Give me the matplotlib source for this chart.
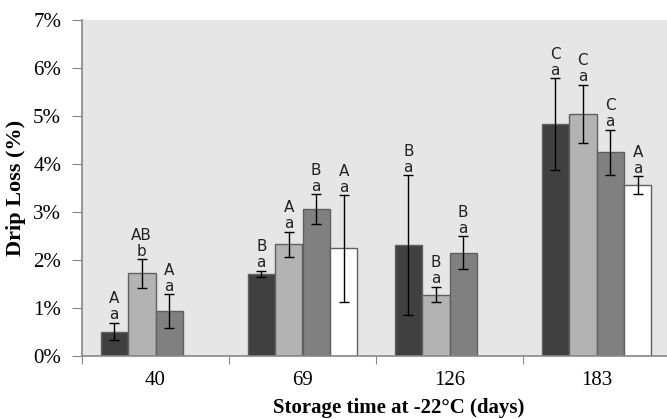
import matplotlib
matplotlib.use('Agg')
import matplotlib.pyplot as plt
import numpy as np

days = ['40', '69', '126', '183']
# mean drip loss (%) per treatment, None = not measured
s1 = [0.51, 1.71, 2.31, 4.83]
s2 = [1.72, 2.33, 1.28, 5.04]
s3 = [0.94, 3.06, 2.15, 4.24]
s4 = [None, 2.24, None, 3.56]
e1 = [0.18, 0.07, 1.46, 0.96]
e2 = [0.30, 0.26, 0.16, 0.61]
e3 = [0.35, 0.31, 0.34, 0.47]
e4 = [None, 1.11, None, 0.19]
up1 = ['A', 'B', 'B', 'C']
up2 = ['AB', 'A', 'B', 'C']
up3 = ['A', 'B', 'B', 'C']
up4 = [None, 'A', None, 'A']
lo1 = ['a', 'a', 'a', 'a']
lo2 = ['b', 'a', 'a', 'a']
lo3 = ['a', 'a', 'a', 'a']
lo4 = [None, 'a', None, 'a']

series = [(s1, e1, up1, lo1, '#404040'),
          (s2, e2, up2, lo2, '#b3b3b3'),
          (s3, e3, up3, lo3, '#808080'),
          (s4, e4, up4, lo4, '#ffffff')]

plt.rcParams['font.family'] = ['Liberation Serif', 'DejaVu Serif']

fig = plt.figure(figsize=(6.67, 4.19), dpi=100)
ax = fig.add_axes([82/667, 63/419, 588/667, 336/419])
ax.set_facecolor('#e6e6e6')

x = np.arange(len(days))
w = 0.187
for i, (vals, errs, ups, los, col) in enumerate(series):
    pos = x + (i - 1.5) * w
    for j in range(len(days)):
        if vals[j] is None:
            continue
        ax.bar(pos[j], vals[j], w, color=col, edgecolor='#606060', linewidth=1, zorder=2)
        ax.errorbar(pos[j], vals[j], yerr=errs[j], fmt='none', ecolor='black',
                    elinewidth=1, capsize=3.5, capthick=1, zorder=3)
        top = vals[j] + errs[j]
        ax.annotate(los[j], (pos[j], top), xytext=(0, 2.5), textcoords='offset points',
                    ha='center', va='baseline', fontsize=11, family='DejaVu Sans',
                    color='#222222')
        ax.annotate(ups[j], (pos[j], top), xytext=(0, 14), textcoords='offset points',
                    ha='center', va='baseline', fontsize=11, family='DejaVu Sans',
                    color='#222222')

ax.set_xlim(-0.5, 3.5)
ax.set_ylim(0, 7)
ax.set_yticks(np.arange(0, 8))
ax.set_yticklabels(['%d%%' % v for v in range(8)], fontsize=15)
ax.set_xticks(np.arange(-0.5, 4.0, 1.0))
ax.set_xticklabels([])
ax.set_xticks(x, minor=True)
ax.set_xticklabels(days, minor=True, fontsize=15)
ax.tick_params(axis='x', which='minor', length=0, pad=11)
ax.tick_params(axis='x', which='major', length=6, color='#888888', direction='out')
ax.tick_params(axis='y', length=7, color='#888888', direction='out', pad=8)

for s in ['top', 'right']:
    ax.spines[s].set_visible(False)
for s in ['left', 'bottom']:
    ax.spines[s].set_color('#888888')
    ax.spines[s].set_linewidth(1.2)

ax.set_ylabel('Drip Loss (%)', fontsize=16, fontweight='bold', labelpad=5)
ax.set_xlabel('Storage time at -22°C (days)', fontsize=15, fontweight='bold')
ax.xaxis.set_label_coords(0.539, -0.125)

fig.savefig('out.png', dpi=100)
